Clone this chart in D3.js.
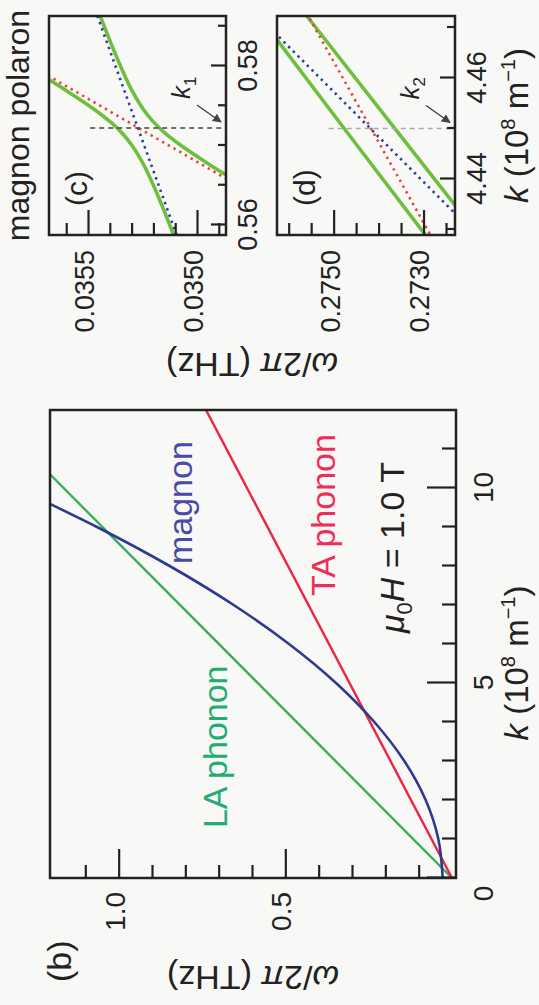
<!DOCTYPE html>
<html>
<head>
<meta charset="utf-8">
<script src="https://cdn.jsdelivr.net/npm/d3@7/dist/d3.min.js"></script>
<style>
  html, body { margin: 0; padding: 0; background: #f8f8f6; }
  svg { display: block; font-family: "Liberation Sans", Arial, sans-serif; }
</style>
</head>
<body>
<div id="chart"></div>
<script>
// ---- panel (b) : full dispersion, mu0H = 1.0 T ----
var magnonK = [0, 1, 2, 3, 4, 5, 6, 7, 8, 9, 9.6];
var magnonW = [0.028, 0.041, 0.079, 0.143, 0.233, 0.348, 0.489, 0.655, 0.847, 1.065, 1.208];
var laK = [0, 10.35];
var laW = [0, 1.206];
var taK = [0, 12];
var taW = [0, 0.738];
var bKMajor = [0, 5, 10];
var bKMinor = [1, 2, 3, 4, 6, 7, 8, 9, 11];
var bWMajor = [0.5, 1.0];
var bWMinor = [0.1, 0.2, 0.3, 0.4, 0.6, 0.7, 0.8, 0.9, 1.1];

// ---- panel (c) : zoom on k1 ----
var cK = [0.5587, 0.562, 0.565, 0.568, 0.570, 0.5715, 0.5723, 0.573, 0.5745, 0.577, 0.580, 0.583, 0.5862];
var cUpper = [0.035107, 0.035154, 0.035200, 0.035253, 0.035298, 0.035342, 0.035370, 0.035399, 0.035469, 0.035605, 0.035782, 0.035965, 0.036163];
var cLower = [0.034403, 0.034607, 0.034790, 0.034965, 0.035073, 0.035144, 0.035176, 0.035201, 0.035245, 0.035300, 0.035351, 0.035397, 0.035443];
var cMagnonK = [0.5587, 0.5862];
var cMagnonW = [0.035093, 0.035456];
var cPhononK = [0.5587, 0.5862];
var cPhononW = [0.034417, 0.036150];
var k1 = 0.5722, k1Top = 0.03549;
var cKMajor = [0.56, 0.58];
var cKMinor = [0.565, 0.57, 0.575, 0.585];
var cWMajor = [0.0350, 0.0355];
var cWMinor = [0.0349, 0.0351, 0.0352, 0.0353, 0.0354, 0.0356];

// ---- panel (d) : zoom on k2 ----
var dK = [4.428, 4.4497, 4.473];
var dUpper = [0.27288, 0.27474, 0.27672];
var dLower = [0.27170, 0.27361, 0.27566];
var dMagnonK = [4.428, 4.473];
var dMagnonW = [0.27172, 0.27676];
var dPhononK = [4.428, 4.473];
var dPhononW = [0.27279, 0.27561];
var k2 = 4.45, k2Top = 0.27511;
var dKMajor = [4.44, 4.46];
var dKMinor = [4.43, 4.45, 4.47];
var dWMajor = [0.2730, 0.2750];
var dWMinor = [0.2725, 0.2735, 0.2740, 0.2745, 0.2755, 0.2760];

// the figure is drawn upright (1005 x 539) and turned a quarter turn
var W = 539, H = 1005;
var svg = d3.select("#chart").append("svg").attr("width", W).attr("height", H);
svg.append("rect").attr("width", W).attr("height", H).attr("fill", "#f8f8f6");

var defs = svg.append("defs");
defs.append("marker")
  .attr("id", "arrow")
  .attr("viewBox", "0 0 10 10")
  .attr("refX", 9).attr("refY", 5)
  .attr("markerWidth", 9).attr("markerHeight", 9)
  .attr("markerUnits", "userSpaceOnUse")
  .attr("orient", "auto")
  .append("path").attr("d", "M0,0 L10,5 L0,10 z").attr("fill", "#444");

var fig = svg.append("g").attr("transform", "translate(0," + H + ") rotate(-90)");

var line = function (x, y) {
  return d3.line().x(function (d) { return x(d[0]); }).y(function (d) { return y(d[1]); });
};

// inward ticks on the left and bottom, labels outside
function drawAxes(g, x, y, o) {
  var y0 = y.range()[0], x0 = x.range()[0];
  var bot = g.append("g").attr("transform", "translate(0," + y0 + ")")
    .call(d3.axisBottom(x).tickValues(o.kMajor).tickSizeInner(-o.major).tickSizeOuter(0)
      .tickPadding(o.kPad).tickFormat(d3.format(o.kFmt)));
  g.append("g").attr("transform", "translate(0," + y0 + ")")
    .call(d3.axisBottom(x).tickValues(o.kMinor).tickSizeInner(-o.minor).tickSizeOuter(0).tickFormat(""));
  var left = g.append("g").attr("transform", "translate(" + x0 + ",0)")
    .call(d3.axisLeft(y).tickValues(o.wMajor).tickSizeInner(-o.wMajorLen).tickSizeOuter(0)
      .tickPadding(o.wPad).tickFormat(d3.format(o.wFmt)));
  g.append("g").attr("transform", "translate(" + x0 + ",0)")
    .call(d3.axisLeft(y).tickValues(o.wMinor).tickSizeInner(-o.wMinorLen).tickSizeOuter(0).tickFormat(""));
  g.selectAll(".domain").remove();
  g.selectAll(".tick line").attr("stroke", "#222").attr("stroke-width", 2.2);
  g.selectAll(".tick text").attr("fill", "#222").attr("font-size", o.font)
    .attr("font-family", "Liberation Sans, Arial, sans-serif");
  left.selectAll(".tick text").attr("dy", "0.2em");
  return bot;
}

function frame(g, x, y) {
  g.append("rect")
    .attr("x", x.range()[0]).attr("y", y.range()[1])
    .attr("width", x.range()[1] - x.range()[0])
    .attr("height", y.range()[0] - y.range()[1])
    .attr("fill", "none").attr("stroke", "#222").attr("stroke-width", 2.5);
}

function omegaLabel(x, y) {
  var t = fig.append("text")
    .attr("transform", "translate(" + x + "," + y + ") rotate(-90)")
    .attr("text-anchor", "middle").attr("font-size", 34).attr("fill", "#222");
  t.append("tspan").attr("font-style", "italic").text("ω");
  t.append("tspan").text("/2");
  t.append("tspan").attr("font-style", "italic").text("π");
  t.append("tspan").text(" (THz)");
}

function kLabel(x, y) {
  var t = fig.append("text").attr("x", x).attr("y", y)
    .attr("text-anchor", "middle").attr("font-size", 33).attr("fill", "#222");
  t.append("tspan").attr("font-style", "italic").text("k");
  t.append("tspan").text(" (10");
  t.append("tspan").attr("font-size", 20).attr("dy", -13).text("8");
  t.append("tspan").attr("dy", 13).text(" m");
  t.append("tspan").attr("font-size", 20).attr("dy", -13).text("−1");
  t.append("tspan").attr("dy", 13).text(")");
}

// ================= panel (b) =================
var xb = d3.scaleLinear().domain([0, 12]).range([127, 595]);
var yb = d3.scaleLinear().domain([-0.012, 1.206]).range([456, 50]);
var pb = fig.append("g");

pb.append("clipPath").attr("id", "clip-b").append("rect")
  .attr("x", 127).attr("y", 50).attr("width", 468).attr("height", 406);

var curves = pb.append("g").attr("clip-path", "url(#clip-b)");
curves.append("path").datum(d3.zip(laK, laW)).attr("d", line(xb, yb))
  .attr("fill", "none").attr("stroke", "#3aae5c").attr("stroke-width", 2.4);
curves.append("path").datum(d3.zip(taK, taW)).attr("d", line(xb, yb))
  .attr("fill", "none").attr("stroke", "#ec2446").attr("stroke-width", 2.4);
curves.append("path").datum(d3.zip(magnonK, magnonW)).attr("d", line(xb, yb).curve(d3.curveMonotoneX))
  .attr("fill", "none").attr("stroke", "#2f3a8f").attr("stroke-width", 2.6);

var bAxis = drawAxes(pb, xb, yb, {
  kMajor: bKMajor, kMinor: bKMinor, wMajor: bWMajor, wMinor: bWMinor,
  major: 29, minor: 14, wMajorLen: 29, wMinorLen: 13,
  kPad: 17, wPad: 14, kFmt: "d", wFmt: ".1f", font: 28
});
// shared origin label sits at the corner
bAxis.selectAll(".tick").filter(function (d) { return d === 0; })
  .select("text").attr("x", -16);
frame(pb, xb, yb);

var bNotes = [
  { text: "LA phonon", k: 1.28, w: 0.675, color: "#21ad72" },
  { text: "magnon", k: 8.05, w: 0.780, color: "#4a4aa6" },
  { text: "TA phonon", k: 7.23, w: 0.351, color: "#ef2d55" }
];
pb.selectAll(".note").data(bNotes).enter().append("text")
  .attr("x", function (d) { return xb(d.k); })
  .attr("y", function (d) { return yb(d.w); })
  .attr("font-size", 34)
  .attr("fill", function (d) { return d.color; })
  .text(function (d) { return d.text; });

var field = pb.append("text").attr("x", xb(6.28)).attr("y", yb(0.144))
  .attr("font-size", 34).attr("fill", "#222");
field.append("tspan").attr("font-style", "italic").text("μ");
field.append("tspan").attr("font-size", 22).attr("dy", 8).text("0");
field.append("tspan").attr("font-style", "italic").attr("dy", -8).text("H");
field.append("tspan").text(" = 1.0 T");

fig.append("text").attr("x", 23).attr("y", 71).attr("font-size", 34).attr("fill", "#222").text("(b)");
omegaLabel(39, 253);
kLabel(342, 528);

// ================= panels (c) and (d) =================
function zoomPanel(o) {
  var g = fig.append("g");
  var x = o.x, y = o.y;
  g.append("clipPath").attr("id", o.id).append("rect")
    .attr("x", x.range()[0]).attr("y", y.range()[1])
    .attr("width", x.range()[1] - x.range()[0])
    .attr("height", y.range()[0] - y.range()[1]);
  var c = g.append("g").attr("clip-path", "url(#" + o.id + ")");

  // coupled modes
  [o.upper, o.lower].forEach(function (w) {
    c.append("path").datum(d3.zip(o.k, w)).attr("d", line(x, y).curve(d3.curveMonotoneX))
      .attr("fill", "none").attr("stroke", "#6fbf3f").attr("stroke-width", 3.6);
  });
  // bare modes, dotted
  c.append("path").datum(d3.zip(o.phK, o.phW)).attr("d", line(x, y))
    .attr("fill", "none").attr("stroke", "#e4493c").attr("stroke-width", 2.6)
    .attr("stroke-dasharray", "2.4,4.2");
  c.append("path").datum(d3.zip(o.mK, o.mW)).attr("d", line(x, y))
    .attr("fill", "none").attr("stroke", "#2c3f9c").attr("stroke-width", 2.6)
    .attr("stroke-dasharray", "2.4,4.2");

  // crossing marker
  var xk = x(o.kc), yBot = y.range()[0];
  c.append("line").attr("x1", xk).attr("x2", xk).attr("y1", y(o.kTop)).attr("y2", yBot)
    .attr("stroke", o.dash).attr("stroke-width", 1.5).attr("stroke-dasharray", "5,4");
  g.append("line")
    .attr("x1", xk + 23).attr("y1", yBot - 29)
    .attr("x2", xk + 6).attr("y2", yBot - 5)
    .attr("stroke", "#444").attr("stroke-width", 1.5).attr("marker-end", "url(#arrow)");
  var kt = g.append("text").attr("x", xk + 29).attr("y", yBot - 36)
    .attr("font-size", 26).attr("fill", "#222");
  kt.append("tspan").attr("font-style", "italic").text("k");
  kt.append("tspan").attr("font-size", 17).attr("dy", 6).text(o.sub);

  drawAxes(g, x, y, {
    kMajor: o.kMajor, kMinor: o.kMinor, wMajor: o.wMajor, wMinor: o.wMinor,
    major: 15, minor: 8, wMajorLen: 25, wMinorLen: 12,
    kPad: 12, wPad: 15, kFmt: ".2f", wFmt: ".4f", font: 27
  });
  frame(g, x, y);
  g.append("text").attr("x", x.range()[0] + 29).attr("y", y.range()[1] + 38)
    .attr("font-size", 30).attr("fill", "#222").text(o.tag);
}

var xc = d3.scaleLinear().domain([0.55874, 0.58629]).range([770, 989]);
var yc = d3.scaleLinear().domain([0.034867, 0.035679]).range([226, 49]);
zoomPanel({
  id: "clip-c", x: xc, y: yc, k: cK, upper: cUpper, lower: cLower,
  mK: cMagnonK, mW: cMagnonW, phK: cPhononK, phW: cPhononW,
  kc: k1, kTop: k1Top, sub: "1", dash: "#444", tag: "(c)",
  kMajor: cKMajor, kMinor: cKMinor, wMajor: cWMajor, wMinor: cWMinor
});

var xd = d3.scaleLinear().domain([4.42891, 4.47228]).range([770, 989]);
var yd = d3.scaleLinear().domain([0.27230, 0.27626]).range([455, 277]);
zoomPanel({
  id: "clip-d", x: xd, y: yd, k: dK, upper: dUpper, lower: dLower,
  mK: dMagnonK, mW: dMagnonW, phK: dPhononK, phW: dPhononW,
  kc: k2, kTop: k2Top, sub: "2", dash: "#aaa", tag: "(d)",
  kMajor: dKMajor, kMinor: dKMinor, wMajor: dWMajor, wMinor: dWMinor
});

fig.append("text").attr("x", 879.5).attr("y", 29).attr("text-anchor", "middle")
  .attr("font-size", 32).attr("fill", "#222").text("magnon polaron");
omegaLabel(652, 252);
kLabel(879.5, 528);
</script>
</body>
</html>
